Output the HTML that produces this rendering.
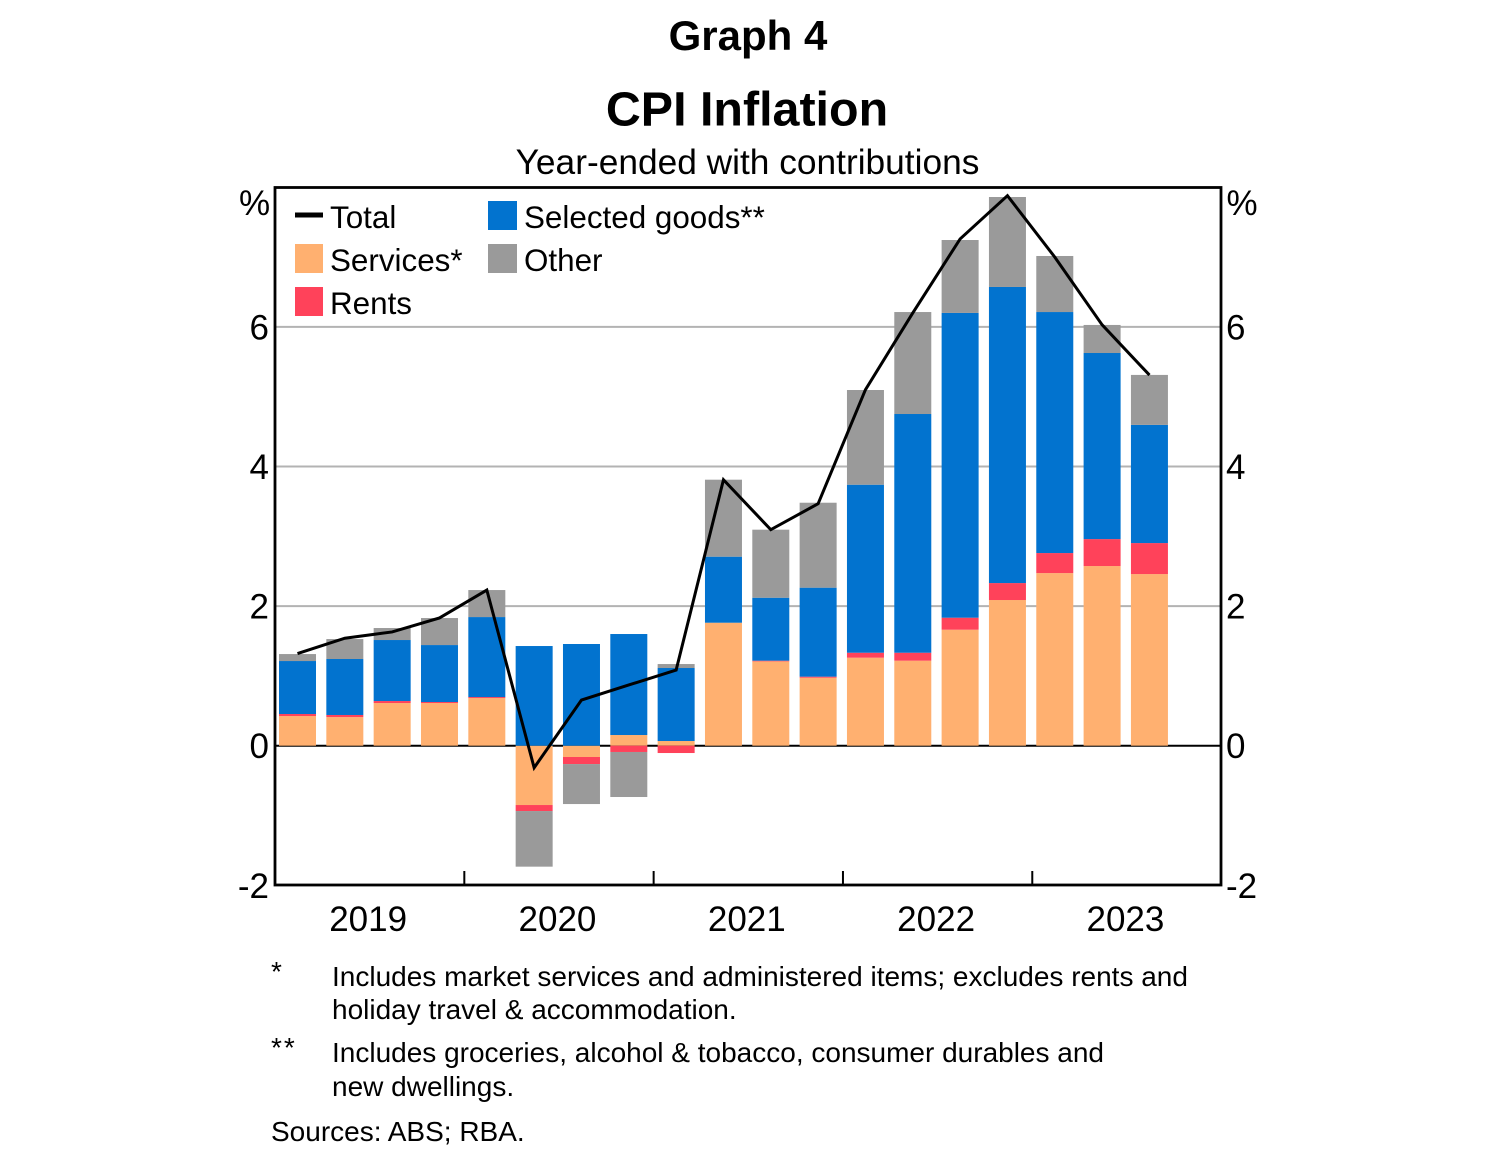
<!DOCTYPE html>
<html lang="en">
<head>
<meta charset="utf-8">
<title>Graph 4: CPI Inflation</title>
<style>
html,body{margin:0;padding:0;background:#fff;}
svg{display:block;font-family:"Liberation Sans",Arial,sans-serif;fill:#000;}
</style>
</head>
<body>
<svg id="chart" xmlns="http://www.w3.org/2000/svg" width="1502" height="1158" viewBox="0 0 1502 1158">
  <rect x="0" y="0" width="1502" height="1158" fill="#fff"/>
  <text x="748" y="50" text-anchor="middle" font-size="42" font-weight="bold">Graph 4</text>
  <text x="747" y="125.5" text-anchor="middle" font-size="48.4" font-weight="bold">CPI Inflation</text>
  <text x="747.5" y="174" text-anchor="middle" font-size="35.3">Year-ended with contributions</text>

  <g id="grid"></g>
  <g id="bars"></g>
  <path id="total" fill="none" stroke="#000" stroke-width="3" stroke-linejoin="miter"/>
  <rect x="275" y="187.5" width="946" height="697.5" fill="none" stroke="#000" stroke-width="2.8"/>
  <g id="ticks"></g>
  <g id="labels"></g>

  <g>
    <rect x="295" y="212.5" width="28" height="5" fill="#000"/>
    <text x="330" y="228" font-size="31.4">Total</text>
    <rect x="295" y="244" width="28" height="29" fill="#ffb070"/>
    <text x="330" y="271" font-size="31.4">Services*</text>
    <rect x="295" y="287" width="28" height="29" fill="#ff425a"/>
    <text x="330" y="314" font-size="31.4">Rents</text>
    <rect x="488" y="201" width="29" height="29" fill="#0273cf"/>
    <text x="524" y="228" font-size="31.4">Selected goods**</text>
    <rect x="488" y="244" width="29" height="29" fill="#9a9a9a"/>
    <text x="524" y="271" font-size="31.4">Other</text>
  </g>

  <g font-size="28">
    <text x="271" y="981">*</text>
    <text x="332" y="986">Includes market services and administered items; excludes rents and</text>
    <text x="332" y="1019">holiday travel &amp; accommodation.</text>
    <text x="271" y="1057" letter-spacing="2">**</text>
    <text x="332" y="1062">Includes groceries, alcohol &amp; tobacco, consumer durables and</text>
    <text x="332" y="1096">new dwellings.</text>
    <text x="271" y="1141">Sources: ABS; RBA.</text>
  </g>
</svg>
<script>
const quarters = ["2019Q1","2019Q2","2019Q3","2019Q4","2020Q1","2020Q2","2020Q3","2020Q4","2021Q1","2021Q2","2021Q3","2021Q4","2022Q1","2022Q2","2022Q3","2022Q4","2023Q1","2023Q2","2023Q3"];
const services = [0.425,0.41,0.611,0.611,0.683,-0.85,-0.162,0.153,0.067,1.762,1.208,0.974,1.261,1.218,1.662,2.087,2.473,2.574,2.459];
const rents = [0.029,0.03,0.029,0.015,0.014,-0.086,-0.101,-0.09,-0.105,0,0.01,0.015,0.071,0.114,0.172,0.243,0.287,0.386,0.444];
const goods = [0.759,0.802,0.874,0.816,1.146,1.428,1.457,1.447,1.046,0.946,0.902,1.275,2.407,3.42,4.366,4.242,3.453,2.666,1.693];
const other = [0.1,0.286,0.172,0.387,0.387,-0.797,-0.573,-0.645,0.057,1.103,0.975,1.217,1.357,1.461,1.045,1.289,0.803,0.402,0.716];
const total = [1.32,1.54,1.63,1.83,2.23,-0.315,0.654,0.87,1.084,3.81,3.095,3.467,5.1,6.2,7.26,7.88,7.0,6.03,5.31];
const yTicks = [-2,0,2,4,6];
const yearLabels = ["2019","2020","2021","2022","2023"];

const svgNS = "http://www.w3.org/2000/svg";
const yScale = v => 745.7 - v * 69.8;
const xScale = i => 297.5 + i * 47.33;
const barWidth = 37;
const yearX = k => 275 + 47.33 * 4 * k;

function make(tag, attrs, parent, text) {
  const el = document.createElementNS(svgNS, tag);
  for (const key in attrs) el.setAttribute(key, attrs[key]);
  if (text !== undefined) el.textContent = text;
  parent.appendChild(el);
  return el;
}

const gridGroup = document.getElementById("grid");
const labelGroup = document.getElementById("labels");
yTicks.forEach(t => {
  if (t === -2) return;
  const line = make("line", {x1:275, x2:1221, y1:yScale(t), y2:yScale(t), stroke:t === 0 ? "#000" : "#b3b3b3", "stroke-width":2}, gridGroup);
  
  
});
yTicks.forEach(t => {
  const left = make("text", {x:269, y:yScale(t) + 12.5, "text-anchor":"end", "font-size":35}, labelGroup, String(t));
  
  
  const right = make("text", {x:1226, y:yScale(t) + 12.5, "font-size":35}, labelGroup, String(t));
  
  
});
const pctLeft = make("text", {x:239, y:215, "font-size":35}, labelGroup, "%");


const pctRight = make("text", {x:1226.5, y:215, "font-size":35}, labelGroup, "%");



yearLabels.forEach((year, k) => {
  const label = make("text", {x:(yearX(k) + yearX(k + 1)) / 2 - 1.5, y:931, "text-anchor":"middle", "font-size":35}, labelGroup, year);
  
  
});
const tickGroup = document.getElementById("ticks");
yearLabels.slice(1).forEach((year, k) => {
  const tick = make("line", {x1:yearX(k + 1), x2:yearX(k + 1), y1:885, y2:871, stroke:"#000", "stroke-width":2}, tickGroup);
  
  
});

const seriesList = [
  {name:"services", values:services, color:"#ffb070"},
  {name:"rents", values:rents, color:"#ff425a"},
  {name:"goods", values:goods, color:"#0273cf"},
  {name:"other", values:other, color:"#9a9a9a"}
];
const barGroup = document.getElementById("bars");
quarters.forEach((q, i) => {
  let pos = 0, neg = 0;
  seriesList.forEach(s => {
    const v = s.values[i];
    if (!v) return;
    const start = v >= 0 ? pos : neg;
    const end = start + v;
    if (v >= 0) pos = end; else neg = end;
    const top = yScale(Math.max(start, end));
    const rect = make("rect", {x:xScale(i) - barWidth / 2, y:top, width:barWidth, height:yScale(Math.min(start, end)) - top, fill:s.color}, barGroup);
    
    
  });
});

document.getElementById("total").setAttribute("d", total.map((v, i) => (i ? "L" : "M") + xScale(i) + " " + yScale(v)).join(" "));
</script>
</body>
</html>
